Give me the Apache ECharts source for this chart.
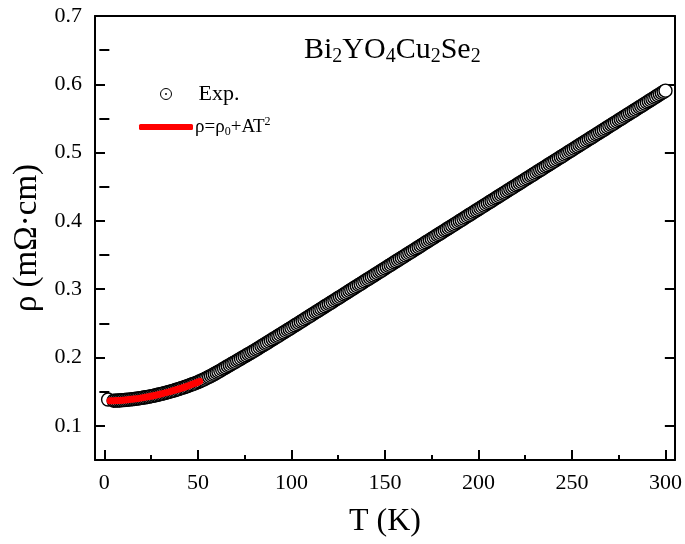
<!DOCTYPE html>
<html>
<head>
<meta charset="utf-8">
<script src="https://cdn.jsdelivr.net/npm/echarts@6/dist/echarts.min.js"></script>
<style>html,body{margin:0;padding:0;background:#fff}#c{width:685px;height:544px}</style>
</head>
<body>
<div id="c"></div>
<script>
// Experimental data: temperature (K)
var T = [2,5,6,7,8,9,10,11,12,13,14,15,16,17,18,19,20,21,22,23,24,25,26,27,28,29,30,
31,32,33,34,35,36,37,38,39,40,41,42,43,44,45,46,47,48,49,50,
51,52,53,54,55,56,57,58,59,60,61,62,63,64,65,66,67,68,69,70,
71,72,73,74,75,76,77,78,79,80,81,82,83,84,85,86,87,88,89,90,
91,92,93,94,95,96,97,98,99,100,101,102,103,104,105,106,107,108,109,110,
111,112,113,114,115,116,117,118,119,120,121,122,123,124,125,126,127,128,129,130,
131,132,133,134,135,136,137,138,139,140,141,142,143,144,145,146,147,148,149,150,
151,152,153,154,155,156,157,158,159,160,161,162,163,164,165,166,167,168,169,170,
171,172,173,174,175,176,177,178,179,180,181,182,183,184,185,186,187,188,189,190,
191,192,193,194,195,196,197,198,199,200,201,202,203,204,205,206,207,208,209,210,
211,212,213,214,215,216,217,218,219,220,221,222,223,224,225,226,227,228,229,230,
231,232,233,234,235,236,237,238,239,240,241,242,243,244,245,246,247,248,249,250,
251,252,253,254,255,256,257,258,259,260,261,262,263,264,265,266,267,268,269,270,
271,272,273,274,275,276,277,278,279,280,281,282,283,284,285,286,287,288,289,290,
291,292,293,294,295,296,297,298,299,300];
// Experimental data: resistivity (mΩ·cm)
var rho = [0.1385,0.1368,0.1369,0.1370,0.1372,0.1374,0.1376,0.1378,0.1381,0.1384,0.1387,0.1390,0.1393,0.1397,0.1401,0.1405,0.1409,0.1414,0.1418,0.1423,0.1428,0.1434,0.1439,0.1445,0.1451,0.1458,0.1464,
0.1471,0.1478,0.1485,0.1492,0.1500,0.1508,0.1516,0.1524,0.1532,0.1541,0.1550,0.1559,0.1568,0.1578,0.1588,0.1598,0.1608,0.1618,0.1629,0.1640,
0.1652,0.1664,0.1677,0.1690,0.1704,0.1718,0.1732,0.1747,0.1762,0.1777,0.1793,0.1809,0.1825,0.1841,0.1857,0.1873,0.1889,0.1905,0.1921,0.1937,
0.1953,0.1969,0.1985,0.2001,0.2017,0.2033,0.2049,0.2065,0.2081,0.2097,0.2114,0.2131,0.2148,0.2165,0.2182,0.2199,0.2216,0.2233,0.2250,0.2267,
0.2284,0.2301,0.2318,0.2335,0.2352,0.2369,0.2386,0.2403,0.2420,0.2437,0.2454,0.2472,0.2489,0.2506,0.2524,0.2541,0.2558,0.2576,0.2593,0.2611,
0.2628,0.2646,0.2663,0.2680,0.2698,0.2715,0.2732,0.2750,0.2767,0.2784,0.2801,0.2819,0.2836,0.2853,0.2871,0.2888,0.2905,0.2923,0.2940,0.2958,
0.2975,0.2993,0.3010,0.3027,0.3045,0.3062,0.3079,0.3097,0.3114,0.3131,0.3148,0.3166,0.3183,0.3200,0.3218,0.3235,0.3252,0.3270,0.3287,0.3305,
0.3322,0.3340,0.3357,0.3374,0.3392,0.3409,0.3426,0.3444,0.3461,0.3478,0.3495,0.3513,0.3530,0.3547,0.3565,0.3582,0.3599,0.3617,0.3634,0.3652,
0.3669,0.3687,0.3704,0.3721,0.3739,0.3756,0.3773,0.3791,0.3808,0.3825,0.3842,0.3860,0.3877,0.3894,0.3912,0.3929,0.3946,0.3964,0.3981,0.3999,
0.4016,0.4034,0.4051,0.4068,0.4086,0.4103,0.4120,0.4138,0.4155,0.4172,0.4189,0.4207,0.4224,0.4241,0.4259,0.4276,0.4293,0.4311,0.4328,0.4346,
0.4363,0.4381,0.4398,0.4415,0.4433,0.4450,0.4467,0.4485,0.4502,0.4519,0.4536,0.4554,0.4571,0.4588,0.4606,0.4623,0.4640,0.4658,0.4675,0.4693,
0.4710,0.4728,0.4745,0.4762,0.4780,0.4797,0.4814,0.4832,0.4849,0.4866,0.4883,0.4901,0.4918,0.4935,0.4953,0.4970,0.4987,0.5005,0.5022,0.5040,
0.5057,0.5075,0.5092,0.5109,0.5127,0.5144,0.5161,0.5179,0.5196,0.5213,0.5230,0.5248,0.5265,0.5282,0.5300,0.5317,0.5334,0.5352,0.5369,0.5387,
0.5404,0.5422,0.5439,0.5456,0.5474,0.5491,0.5508,0.5526,0.5543,0.5560,0.5577,0.5595,0.5612,0.5629,0.5647,0.5664,0.5681,0.5699,0.5716,0.5734,
0.5751,0.5769,0.5786,0.5803,0.5821,0.5838,0.5855,0.5873,0.5890,0.5907];

// Fit curve rho = rho0 + A*T^2
var fitT = [3,5,10,15,20,25,30,35,40,45,50,51];
var fitRho = [0.1366,0.1368,0.1376,0.1390,0.1409,0.1434,0.1464,0.1500,0.1541,0.1588,0.1640,0.1651];

// Tick values
var xMajor = [0,50,100,150,200,250,300];
var xMinor = [25,75,125,175,225,275];
var yMajor = [0.1,0.2,0.3,0.4,0.5,0.6,0.7];
var yMinor = [0.15,0.25,0.35,0.45,0.55,0.65];

var FONT = '"Liberation Serif","Times New Roman",serif';
var expData = T.map(function(t,i){return [t, rho[i]];});
var fitData = fitT.map(function(t,i){return [t, fitRho[i]];});

var chart = echarts.init(document.getElementById('c'), null, {renderer:'canvas'});
var XMIN=-5, XMAX=305, YMIN=0.05, YMAX=0.7;
function xAx(opts){
  return Object.assign({type:'value', gridIndex:0, min:XMIN, max:XMAX, position:'bottom',
    splitLine:{show:false}, axisLine:{show:false}, axisTick:{show:false}, axisLabel:{show:false}}, opts);
}
function yAx(opts){
  return Object.assign({type:'value', gridIndex:0, min:YMIN, max:YMAX, position:'left',
    splitLine:{show:false}, axisLine:{show:false}, axisTick:{show:false}, axisLabel:{show:false}}, opts);
}
var lineS = {color:'#000', width:2};
var dotCircle = 'path://M6,0A6,6,0,1,1,6,12A6,6,0,1,1,6,0Z M6,5.3A0.7,0.7,0,1,1,6,6.7A0.7,0.7,0,1,1,6,5.3Z';
chart.setOption({
  animation:false,
  backgroundColor:'#fff',
  textStyle:{fontFamily:FONT},
  grid:{left:95, right:8, top:16, bottom:84, containLabel:false},
  title:{
    text:'Bi{s|2}YO{s|4}Cu{s|2}Se{s|2}',
    left:299, top:28,
    textStyle:{fontFamily:FONT, fontSize:30, fontWeight:'normal', color:'#000', lineHeight:34,
      rich:{s:{fontFamily:FONT, fontSize:20, color:'#000', verticalAlign:'bottom', lineHeight:14}}}
  },
  legend:[{
    data:[{name:'Exp.', icon:dotCircle, itemStyle:{color:'#fff', borderColor:'#000', borderWidth:1}}],
    left:160, top:83, orient:'vertical', padding:0,
    itemWidth:11, itemHeight:11, itemGap:0,
    textStyle:{fontFamily:FONT, fontSize:22, color:'#000', padding:[0,0,0,22]}
  },{
    data:[{name:'fit', icon:'roundRect', itemStyle:{color:'#ff0000', borderWidth:0}}],
    left:139, top:116, orient:'vertical', padding:0,
    itemWidth:54, itemHeight:6, itemGap:0,
    formatter:function(){return '{n|ρ=ρ}{s|0}{n|+AT}{p|2}';},
    textStyle:{fontFamily:FONT, fontSize:19, color:'#000', padding:[0,0,0,-3],
      rich:{n:{fontFamily:FONT, fontSize:19, color:'#000', lineHeight:22},
            s:{fontFamily:FONT, fontSize:12, color:'#000', verticalAlign:'bottom', lineHeight:8},
            p:{fontFamily:FONT, fontSize:12, color:'#000', verticalAlign:'top', lineHeight:10}}}
  }],
  xAxis:[
    xAx({axisLine:{show:true, onZero:false, lineStyle:lineS},
      axisTick:{show:true, inside:true, length:10, lineStyle:lineS, customValues:xMajor},
      axisLabel:{show:true, customValues:xMajor, margin:12, fontFamily:FONT, fontSize:22, color:'#000'},
      name:'T (K)', nameLocation:'middle', nameGap:46,
      nameTextStyle:{fontFamily:FONT, fontSize:32, color:'#000'}}),
    xAx({axisTick:{show:true, inside:true, length:5, lineStyle:lineS, customValues:xMinor}}),
    xAx({position:'top', axisLine:{show:true, onZero:false, lineStyle:lineS}})
  ],
  yAxis:[
    yAx({axisLine:{show:true, onZero:false, lineStyle:lineS},
      axisTick:{show:true, inside:true, length:10, lineStyle:lineS, customValues:yMajor},
      axisLabel:{show:true, customValues:yMajor, margin:13, fontFamily:FONT, fontSize:22, color:'#000',
        formatter:function(v){return v.toFixed(1);}},
      name:'ρ (mΩ·cm)', nameLocation:'middle', nameGap:50,
      nameTextStyle:{fontFamily:FONT, fontSize:33, color:'#000'}}),
    yAx({axisTick:{show:true, inside:true, length:5, lineStyle:lineS, customValues:yMinor}}),
    yAx({position:'right', axisLine:{show:true, onZero:false, lineStyle:lineS},
      axisTick:{show:true, inside:true, length:10, lineStyle:lineS, customValues:yMajor}}),
    yAx({position:'right', axisTick:{show:true, inside:true, length:5, lineStyle:lineS, customValues:yMinor}})
  ],
  series:[{
    name:'Exp.', type:'scatter', xAxisIndex:0, yAxisIndex:0, data:expData,
    symbol:'circle', symbolSize:13, large:false, progressive:0,
    itemStyle:{color:'#fff', borderColor:'#000', borderWidth:1.4, opacity:1},
    z:1
  },{
    name:'fit', type:'line', xAxisIndex:0, yAxisIndex:0, data:fitData,
    smooth:true, symbol:'none', showSymbol:false,
    lineStyle:{color:'#ff0000', width:7, cap:'round'},
    itemStyle:{color:'#ff0000'},
    zlevel:1, z:10
  }]
});
</script>
</body>
</html>
